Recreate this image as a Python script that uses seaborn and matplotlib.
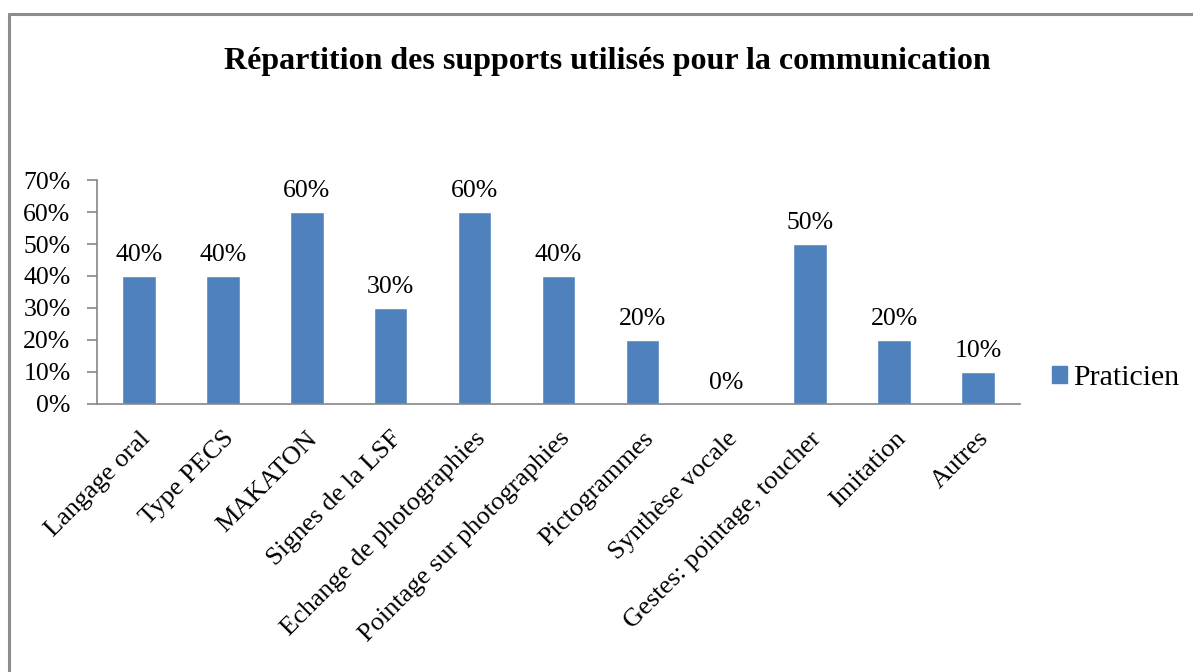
import matplotlib
matplotlib.use("Agg")
import matplotlib.pyplot as plt
import matplotlib.lines as mlines
import matplotlib.patches as mpatches
import pandas as pd
import seaborn as sns

# values
categories = ["Langage oral", "Type PECS", "MAKATON", "Signes de la LSF",
              "Echange de photographies", "Pointage sur photographies",
              "Pictogrammes", "Synthèse vocale", "Gestes: pointage, toucher",
              "Imitation", "Autres"]
praticien = [0.40, 0.40, 0.60, 0.30, 0.60, 0.40, 0.20, 0.00, 0.50, 0.20, 0.10]
y_ticks = [0.0, 0.1, 0.2, 0.3, 0.4, 0.5, 0.6, 0.7]

df = pd.DataFrame({"support": categories, "valeur": praticien})

sns.set_style("white")
plt.rcParams['font.family'] = ['Liberation Serif', 'DejaVu Serif']
plt.rcParams['text.color'] = 'black'
plt.rcParams['xtick.color'] = 'black'
plt.rcParams['ytick.color'] = 'black'

bar_color = "#4F81BD"
axis_color = "#868686"

fig = plt.figure(figsize=(11.93, 6.72), dpi=100)
ax = fig.add_axes([0.0813, 0.399, 0.7737, 0.333])

sns.barplot(data=df, x="support", y="valeur", color=bar_color, width=0.4,
            saturation=1, ax=ax)

ax.set_xlim(-0.5, len(categories) - 0.5)
ax.set_ylim(0, 0.7)
ax.set_yticks(y_ticks)
ax.set_yticklabels([f"{int(round(t * 100))}%" for t in y_ticks], fontsize=18.5)
ax.set_xticks(range(len(categories)))
ax.set_xticklabels(categories, rotation=45, ha="right", rotation_mode="anchor",
                   fontsize=19)
ax.set_xticks([i - 0.5 for i in range(len(categories) + 1)], minor=True)
ax.tick_params(axis="x", which="major", length=0, pad=17)
ax.tick_params(axis="x", which="minor", length=8, color=axis_color, width=1.2)
ax.tick_params(axis="y", length=7, color=axis_color, width=1.2, pad=12,
               direction="out", left=True)
ax.set_xlabel("")
ax.set_ylabel("")

for side in ["top", "right"]:
    ax.spines[side].set_visible(False)
for side in ["left", "bottom"]:
    ax.spines[side].set_color(axis_color)
    ax.spines[side].set_linewidth(1.2)

# data labels
for i, v in enumerate(praticien):
    ax.text(i, v + 0.03, f"{int(round(v * 100))}%", ha="center", va="bottom",
            fontsize=18.5)

fig.suptitle("Répartition des supports utilisés pour la communication",
             x=0.509, y=0.93, fontsize=23, fontweight="bold")

handle = mpatches.Patch(color=bar_color, label="Praticien")
fig.legend(handles=[handle], loc="center left", bbox_to_anchor=(0.882, 0.437),
           frameon=False, fontsize=21.5, handlelength=0.5, handleheight=0.5,
           handletextpad=0.2, borderpad=0, borderaxespad=0)

# chart frame (only top and left edges visible in the picture)
fig.add_artist(mlines.Line2D([0.0075, 1.0], [0.979, 0.979], color="#8C8C8C",
                             linewidth=2.2, transform=fig.transFigure))
fig.add_artist(mlines.Line2D([0.0075, 0.0075], [0.0, 0.979], color="#8C8C8C",
                             linewidth=2.2, transform=fig.transFigure))

fig.savefig("out.png", dpi=100, facecolor="white")
